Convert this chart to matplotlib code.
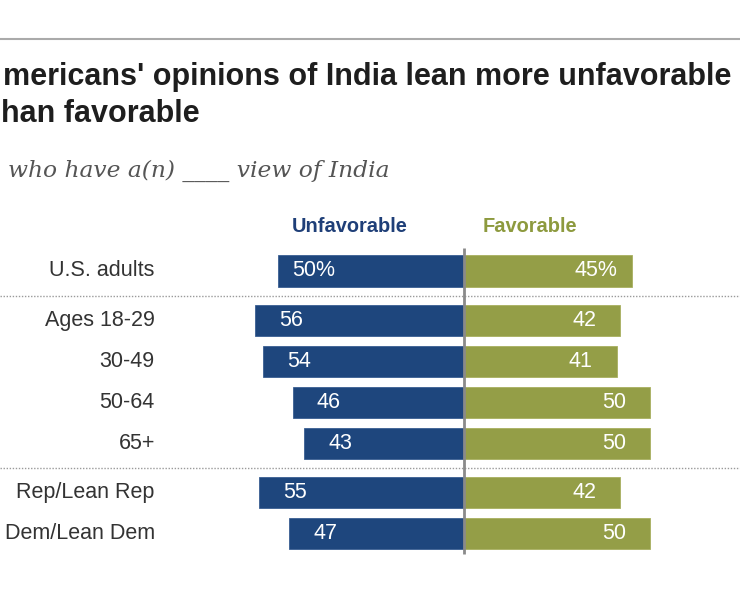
import matplotlib
matplotlib.use("Agg")
import matplotlib.pyplot as plt

# ---- data ----
categories = ["U.S. adults", "Ages 18-29", "30-49", "50-64", "65+",
              "Rep/Lean Rep", "Dem/Lean Dem"]
groups = [0, 1, 1, 1, 1, 2, 2]
unfavorable = [50, 56, 54, 46, 43, 55, 47]
favorable = [45, 42, 41, 50, 50, 42, 50]
title_lines = ["mericans' opinions of India lean more unfavorable", "han favorable"]
subtitle = "who have a(n) ____ view of India"
series_names = ["Unfavorable", "Favorable"]

BLUE = "#1e467d"
OLIVE = "#949e47"
BLUE_TXT = "#1f3f78"
OLIVE_TXT = "#8d9a3e"

W, H = 740, 600
fig = plt.figure(figsize=(W / 100, H / 100), dpi=100)
ax = fig.add_axes([0, 0, 1, 1])
ax.axis("off")

# pixel mapping: x_px = 464 + v*3.725 ; y_px = 271 + p*41
sx, cx = 3.725, 464
sy, cy = 41, 271
ax.set_xlim(-cx / sx, (W - cx) / sx)
ax.set_ylim((H - cy) / sy, -cy / sy)

pos = [i + 0.2 * g for i, g in enumerate(groups)]
bh = 0.76

ax.barh(pos, [-u for u in unfavorable], height=bh, color=BLUE, left=0,
        edgecolor="#3a5f93", linewidth=0.6)
ax.barh(pos, favorable, height=bh, color=OLIVE, left=0,
        edgecolor="#a8b060", linewidth=0.6)

fs = 15.5
for i, (p, u, f) in enumerate(zip(pos, unfavorable, favorable)):
    suf = "%" if i == 0 else ""
    ax.text(-u + 9.7, p, f"{u}{suf}", ha="center", va="center", color="white",
            fontsize=fs, family="Liberation Sans")
    ax.text(f - 9.7, p, f"{f}{suf}", ha="center", va="center", color="white",
            fontsize=fs, family="Liberation Sans")
    ax.text(-83, p, categories[i], ha="right", va="center", color="#333333",
            fontsize=fs, family="Liberation Sans")

# separators between groups
for k in range(1, len(pos)):
    if groups[k] != groups[k - 1]:
        ys = (pos[k] + pos[k - 1]) / 2
        ax.plot([-cx / sx, (W - cx) / sx], [ys, ys], color="#9a9a9a",
                lw=1.0, ls=(0, (1, 1.2)), solid_capstyle="butt")

# center line
ax.plot([0, 0], [pos[0] - 0.56, pos[-1] + 0.5], color="#8a8a8a", lw=2.0,
        solid_capstyle="butt", zorder=5)

# headers
hy = (227 - cy) / sy
ax.text((350 - cx) / sx, hy, series_names[0], ha="center", va="center",
        color=BLUE_TXT, fontsize=14.4, fontweight="bold", family="Liberation Sans")
ax.text((530 - cx) / sx, hy, series_names[1], ha="center", va="center",
        color=OLIVE_TXT, fontsize=14.4, fontweight="bold", family="Liberation Sans")

# top rule
fig.add_artist(plt.Line2D([0, 1], [1 - 39 / H, 1 - 39 / H], color="#aaaaaa",
                          lw=1.5, transform=fig.transFigure))

# title
fig.text(3 / W, 1 - 85 / H, title_lines[0], ha="left", va="baseline",
         fontsize=22, fontweight="bold", color="#1e1e1e", family="Liberation Sans")
fig.text(1 / W, 1 - 122 / H, title_lines[1], ha="left", va="baseline",
         fontsize=22, fontweight="bold", color="#1e1e1e", family="Liberation Sans")

st = fig.text(8 / W, 1 - 177 / H, subtitle, ha="left", va="baseline",
              fontsize=16, style="italic", color="#555555", family="DejaVu Serif")
fig.canvas.draw()
bb = st.get_window_extent(fig.canvas.get_renderer())
st.set_fontsize(st.get_fontsize() * 382 / bb.width)

fig.savefig("out.png", dpi=100)
